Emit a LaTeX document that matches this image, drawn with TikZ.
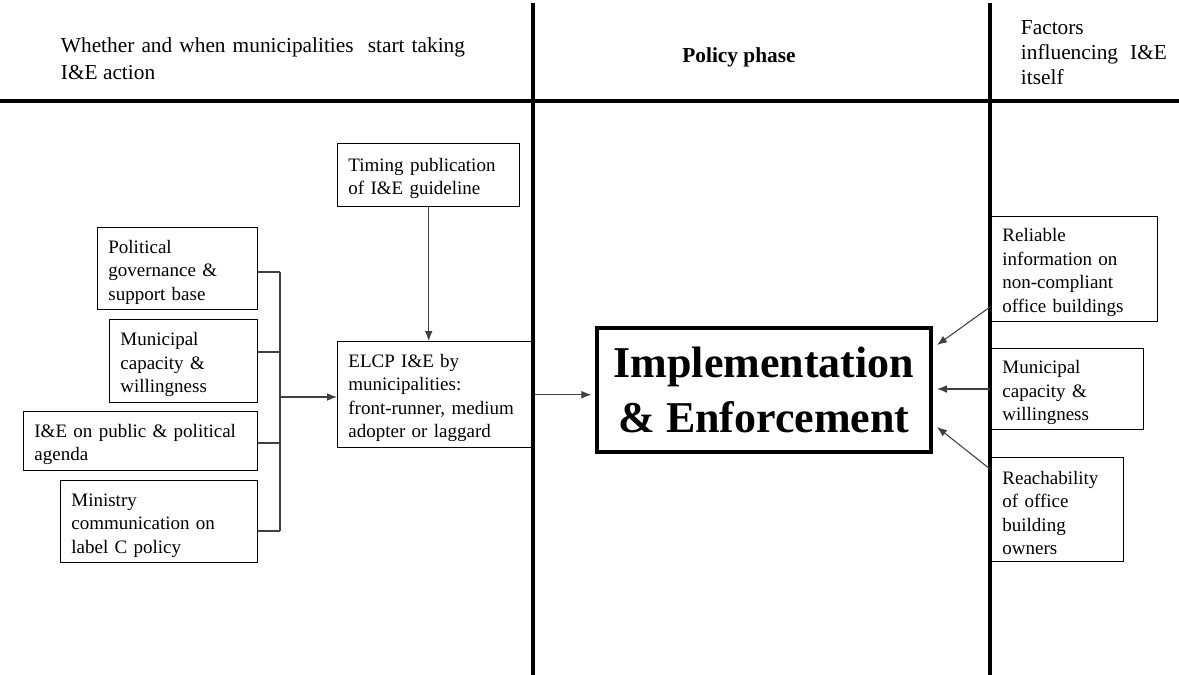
\documentclass[tikz,border=0pt]{standalone}
\usepackage{fontspec}
\setmainfont{Liberation Serif}
\usetikzlibrary{arrows.meta}
\begin{document}
\begin{tikzpicture}[x=0.75pt,y=-0.75pt,
  txt/.style={font=\fontsize{14.25}{17.6}\selectfont},
  head/.style={inner sep=0pt, align=left},
  box/.style={txt, draw, line width=1.1pt, anchor=north west, inner xsep=8pt,
    inner ysep=2pt, align=left, execute at begin node={\rule{0pt}{15pt}}},
  rule/.style={line width=3pt},
  link/.style={line width=0.8pt, black!75},
  arr/.style={link, -{Latex[length=7.5pt,width=5.8pt]}},
  mainbox/.style={draw, line width=2.4pt, align=center,
    font=\fontsize{33}{41}\selectfont\bfseries}]
\useasboundingbox (0,0) rectangle (1179,675);

% column rules
\draw[rule] (0,101) -- (1179,101);
\draw[rule] (533,3) -- (533,675);
\draw[rule] (990,3) -- (990,675);

% column headings
\node[head, anchor=north west, font=\fontsize{16}{20.25}\selectfont]
  (hleft) at (60.7,37.5)
  {\makebox[303pt][s]{Whether and when municipalities\ \ start taking}\\I\&E action};
\node[anchor=base, inner sep=0pt, font=\fontsize{16}{19}\selectfont\bfseries]
  (hmid) at (739,62) {Policy phase};
\node[head, anchor=north west, font=\fontsize{16}{18.75}\selectfont]
  (hright) at (1020.7,20.5)
  {Factors\\\makebox[109.5pt][s]{influencing I\&E}\\itself};

% left-hand factors
\node[box, minimum width=120pt, minimum height=61.5pt, text width=104pt]
  (pol) at (97,227) {Political\\governance \&\\support base};
\node[box, minimum width=111pt, minimum height=62.25pt, text width=95pt]
  (mcl) at (109,319) {Municipal\\capacity \&\\willingness};
\node[box, minimum width=175.5pt, minimum height=44.25pt, text width=159.5pt]
  (pub) at (23,411) {I\&E on public \& political\\agenda};
\node[box, minimum width=147.75pt, minimum height=61.5pt, text width=131.75pt]
  (min) at (60,480) {Ministry\\communication on\\label C policy};

% timing and municipal adoption
\node[box, minimum width=136.5pt, minimum height=47.25pt, text width=120.5pt]
  (tim) at (337,143) {Timing publication\\of I\&E guideline};
\node[box, minimum width=147pt, minimum height=79.5pt, text width=131pt]
  (elcp) at (337,341) {ELCP I\&E by\\municipalities:\\front-runner, medium\\adopter or laggard};

% central phase
\node[mainbox, minimum width=250.5pt, minimum height=93pt] (main) at (764,390)
  {Implementation\\\& Enforcement};

% right-hand factors
\node[box, minimum width=124.5pt, minimum height=78.75pt, text width=108.5pt]
  (rel) at (991,216) {Reliable\\information on\\non-compliant\\office buildings};
\node[box, minimum width=114pt, minimum height=60.75pt, text width=98pt]
  (mcr) at (991,348) {Municipal\\capacity \&\\willingness};
\node[box, minimum width=99pt, minimum height=78pt, text width=83pt]
  (rea) at (991,457) {Reachability\\of office\\building\\owners};

% bracket joining the left-hand factors
\coordinate (j1) at (280,272);
\coordinate (j2) at (280,352);
\coordinate (j3) at (280,443);
\coordinate (j4) at (280,531);
\coordinate (jm) at (280,397);
\draw[link] (pol.east |- j1) -- (j1);
\draw[link] (mcl.east |- j2) -- (j2);
\draw[link] (pub.east |- j3) -- (j3);
\draw[link] (min.east |- j4) -- (j4);
\draw[link] (j1) -- (j4);
\draw[arr] (jm) -- (elcp.west |- jm);

\draw[arr] (tim.south) -- (tim.south |- elcp.north);
\draw[arr] (elcp.east) -- ([xshift=-3pt]main.west |- elcp.east);

% right-hand influences
\coordinate (r1) at (990,307);
\coordinate (r2) at (990,389);
\coordinate (r3) at (990,469);
\coordinate (t1) at (937,345);
\coordinate (t2) at (937,389);
\coordinate (t3) at (937,427);
\draw[arr] (r1) -- (t1);
\draw[arr] (r2) -- (t2);
\draw[arr] (r3) -- (t3);
\end{tikzpicture}
\end{document}
